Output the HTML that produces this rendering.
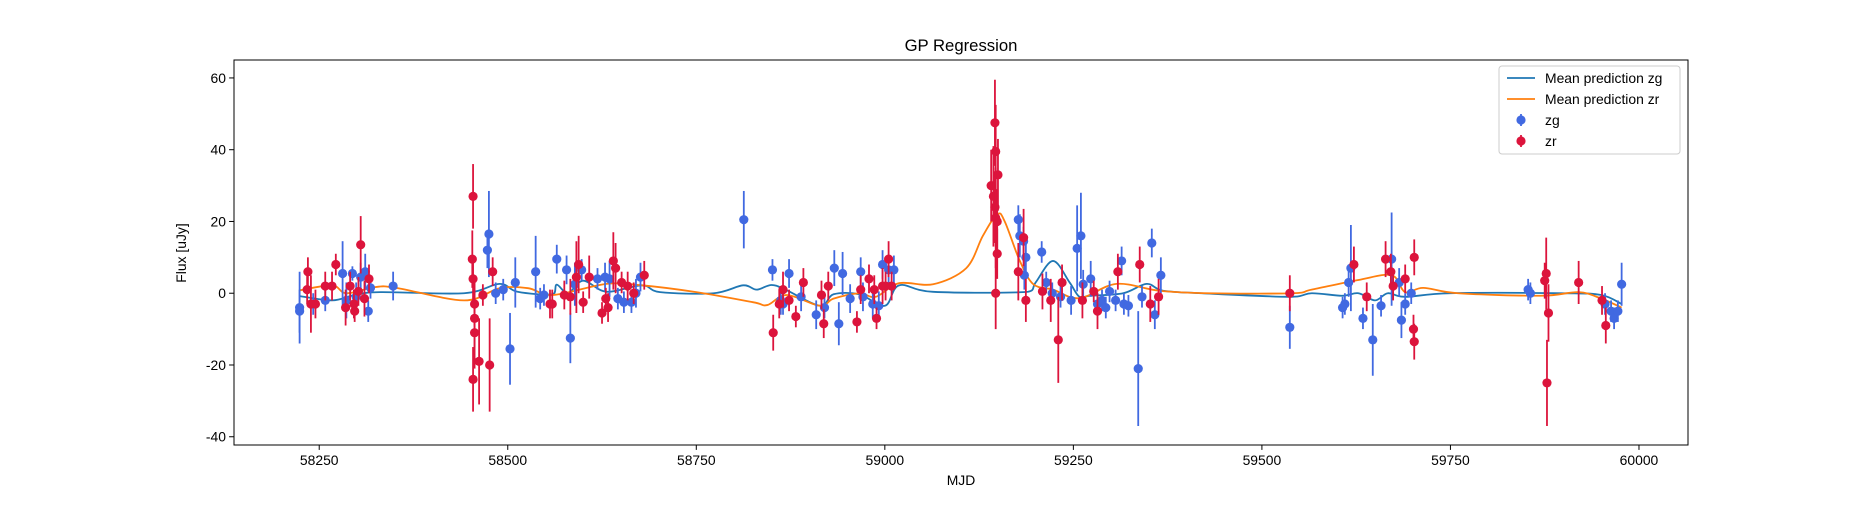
<!DOCTYPE html>
<html><head><meta charset="utf-8"><style>
body{margin:0;background:#fff;}
svg text{font-family:"Liberation Sans","DejaVu Sans",sans-serif;}
</style></head><body>
<svg id="chart" width="1875" height="500" viewBox="0 0 1875 500" xmlns="http://www.w3.org/2000/svg">
<rect width="1875" height="500" fill="#fff"/>
<text x="961" y="51" font-size="16.7" text-anchor="middle">GP Regression</text>
<g id="plot"></g>
<text x="961" y="485" font-size="13.9" text-anchor="middle">MJD</text>
<text x="186" y="253" font-size="13.9" text-anchor="middle" transform="rotate(-90 186 253)">Flux [uJy]</text>
</svg>
<script>
const xTicks=[58250,58500,58750,59000,59250,59500,59750,60000];
const yTicks=[-40,-20,0,20,40,60];
const zgMjd=[58224,58224,58242,58258,58281,58294,58286,58299,58305,58311,58315,58318,58348,58475,58473,58484,58494,58503,58510,58537,58543,58548,58565,58578,58583,58589,58598,58619,58629,58635,58646,58654,58664,58670,58676,58813,58851,58862,58873,58865,58889,58909,58920,58933,58939,58944,58954,58968,58971,58984,58992,58997,59005,59012,59177,59179,59184,59187,59185,59208,59214,59222,59233,59247,59255,59260,59263,59273,59282,59288,59298,59293,59306,59314,59317,59323,59336,59341,59354,59358,59366,59537,59610,59607,59615,59618,59634,59647,59658,59672,59685,59682,59690,59698,59853,59856,59955,59963,59967,59972,59977];
const zgFlux=[-4,-5,-3,-2,5.5,5.5,-2,-1,4.5,6,-5,1.5,2,16.5,12,0,1,-15.5,3,6,-1.5,-0.5,9.5,6.5,-12.5,2.5,6.5,4,4.5,4,-1.5,-2.5,-2.5,0,4.5,20.5,6.5,-2,5.5,-3,-1,-6,-4,7,-8.5,5.5,-1.5,6,-1,-3,-3.5,8,6.5,6.5,20.5,16,14.5,10,5,11.5,3,0,-1,-2,12.5,16,2.5,4,-3,-2,0.5,-4,-2,9,-3,-3.5,-21,-1,14,-6,5,-9.5,-3,-4,3,7,-7,-13,-3.5,9.5,-7.5,3,-3,0,1,0,-3,-5,-7,-5,2.5];
const zgErr=[10,6,3,3,9,2,5,4,4,5,3,3,4,12,5,3,3,10,7,10,3,3,4,4,7,6,3,3,4,5,3,3,3,4,4,8,3,4,4,3,4,4,3,5,6,6,4,4,4,4,4,4,4,4,4,6,4,4,4,3,3,3,3,4,12,12,4,5,3,3,3,3,3,4,3,3,16,3,4,4,5,6,3,3,4,12,3,10,3,13,5,4,3,3,3,3,3,3,3,3,6];
const zrMjd=[58234,58235,58239,58245,58258,58267,58272,58285,58291,58296,58297,58302,58305,58310,58316,58454,58453,58454,58456,58456,58456,58454,58462,58467,58476,58480,58556,58559,58575,58583,58591,58594,58608,58600,58625,58630,58633,58640,58643,58651,58659,58667,58681,58852,58860,58865,58873,58882,58892,58916,58919,58925,58963,58968,58979,58986,58989,58997,59001,59005,59009,59141,59146,59144,59147,59146,59147,59150,59149,59149,59147,59177,59187,59184,59209,59220,59230,59235,59262,59277,59282,59309,59338,59352,59363,59537,59622,59639,59664,59671,59674,59690,59702,59701,59702,59875,59877,59878,59880,59920,59951,59956];
const zrFlux=[1,6,-3,-3,2,2,8,-4,2,-3,-5,0.5,13.5,-1.5,4,27,9.5,4,-3,-7,-11,-24,-19,-0.5,-20,6,-3,-3,-0.5,-1,4.5,8,4.5,-2.5,-5.5,-1.5,-4,9,7,3,2,0,5,-11,-3,1,-2,-6.5,3,-0.5,-8.5,2,-8,1,4,1,-7,2,2,9.5,2,30,47.5,27,39.5,24,21,33,20,11,0,6,-2,15.5,0.5,-2,-13,3,-2,0.5,-5,6,8,-3,-1,0,8,-1,9.5,6,2,4,10,-10,-13.5,3.5,5.5,-25,-5.5,3,-2,-9];
const zrErr=[4,4,8,4,4,4,3,5,4,4,3,4,8,5,4,9,8,6,6,8,10,9,12,3,13,4,4,4,4,5,10,8,6,3,3,3,4,8,7,3,4,3,4,5,4,5,3,3,4,4,4,4,3,4,4,4,3,5,4,5,4,10,12,14,13,10,14,10,9,7,10,8,6,8,5,6,12,5,5,3,5,5,5,5,5,5,5,4,5,5,4,4,5,4,5,5,10,12,8,6,4,5];
const zgMeanMjd=[58224,58267,58297,58331,58442,58489,58513,58560,58565,58580,58600,58631,58678,58702,58773,58812,58830,58850,58870,58914,58932,58966,59000,59019,59064,59190,59200,59223,59245,59258,59272,59316,59347,59369,59420,59535,59566,59606,59628,59650,59667,59690,59750,59900,59950,59977];
const zgMeanFlux=[-0.8,-2,-0.5,0.3,0,2.6,0.4,-0.3,2.4,0,3.5,0.4,2.2,0.3,0,2.2,1,2.3,0.8,-3.5,-0.3,-0.3,-3.5,2.2,0.4,0.4,3,9,3,-1,-0.7,0,2.6,0.7,0,-1,0,-0.7,0,-2,0,-1,0,0,-0.5,-3];
const zrMeanMjd=[58224,58267,58286,58324,58352,58442,58489,58527,58560,58631,58678,58750,58825,58844,58870,58914,58932,58966,58988,59019,59064,59108,59130,59149,59159,59179,59197,59223,59258,59307,59364,59430,59540,59566,59628,59672,59690,59714,59760,59870,59920,59950,59977];
const zrMeanFlux=[0.8,2.2,0,1.7,1.5,-2,1.4,1.4,-0.5,2.6,2.2,0.3,-2.5,-3.3,-0.5,-3.5,-1.5,0,-1,2.8,2.5,7,16,22,20,9,2.5,1,-1.4,2.6,0.7,0,0,1,3.7,5,0.3,1.5,0,-0.7,0.3,-1.5,-4];

const L=234,R=1688,T=60,B=445,xMin=58137,xMax=60065,yMin=-42.3,yMax=65;
const sx=v=>L+(v-xMin)/(xMax-xMin)*(R-L);
const sy=v=>B-(v-yMin)/(yMax-yMin)*(B-T);
const NS="http://www.w3.org/2000/svg";
const plot=document.getElementById('plot');
function mk(tag,attrs,parent){const e=document.createElementNS(NS,tag);for(const k in attrs)e.setAttribute(k,attrs[k]);(parent||plot).appendChild(e);return e;}
const clip=mk('clipPath',{id:'clip'});mk('rect',{x:L,y:T,width:R-L,height:B-T},clip);

xTicks.forEach(t=>{
  const g=mk('g',{});
  
  
  mk('line',{x1:sx(t),x2:sx(t),y1:B,y2:B+4.9,stroke:'#000','stroke-width':1},g);
  const tx=mk('text',{x:sx(t),y:B+20,'font-size':13.9,'text-anchor':'middle'},g);tx.textContent=t;
});
yTicks.forEach(t=>{
  const g=mk('g',{});
  
  
  mk('line',{x1:L-4.9,x2:L,y1:sy(t),y2:sy(t),stroke:'#000','stroke-width':1},g);
  const tx=mk('text',{x:L-8,y:sy(t)+5,'font-size':13.9,'text-anchor':'end'},g);tx.textContent=t;
});

function smooth(xs,ys){
  const p=xs.map((x,i)=>[sx(x),sy(ys[i])]);
  let d='M'+p[0][0]+','+p[0][1];
  for(let i=0;i<p.length-1;i++){
    const p0=p[Math.max(0,i-1)],p1=p[i],p2=p[i+1],p3=p[Math.min(p.length-1,i+2)];
    const c1=[p1[0]+(p2[0]-p0[0])/6,p1[1]+(p2[1]-p0[1])/6];
    const c2=[p2[0]-(p3[0]-p1[0])/6,p2[1]-(p3[1]-p1[1])/6];
    c1[0]=Math.min(Math.max(c1[0],p1[0]),p2[0]);c2[0]=Math.min(Math.max(c2[0],p1[0]),p2[0]);
    d+=` C${c1[0]},${c1[1]} ${c2[0]},${c2[1]} ${p2[0]},${p2[1]}`;
  }
  return d;
}
const lg=mk('g',{'clip-path':'url(#clip)'});
const zgLine=mk('path',{d:smooth(zgMeanMjd,zgMeanFlux),fill:'none',stroke:'#1f77b4','stroke-width':1.8},lg);


const zrLine=mk('path',{d:smooth(zrMeanMjd,zrMeanFlux),fill:'none',stroke:'#ff7f0e','stroke-width':1.8},lg);



function points(ms,fs,es,col,name){
  const g=mk('g',{'clip-path':'url(#clip)'});
  
  
  ms.forEach((m,i)=>{
    const ln=mk('line',{x1:sx(m),x2:sx(m),y1:sy(fs[i]-es[i]),y2:sy(fs[i]+es[i]),stroke:col,'stroke-width':1.8},g);
    
    
    const c=mk('circle',{cx:sx(m),cy:sy(fs[i]),r:4.6,fill:col},g);
    
    
  });
}
points(zgMjd,zgFlux,zgErr,'#4169e1','zg');
points(zrMjd,zrFlux,zrErr,'#dc143c','zr');

const fr=mk('rect',{x:L,y:T,width:R-L,height:B-T,fill:'none',stroke:'#000','stroke-width':1});



const leg=mk('g',{});


mk('rect',{x:1499,y:66,width:181,height:88,rx:3,fill:'#fff','fill-opacity':0.8,stroke:'#ccc','stroke-width':1},leg);
const items=[['Mean prediction zg','line','#1f77b4',78],['Mean prediction zr','line','#ff7f0e',99],['zg','pt','#4169e1',120],['zr','pt','#dc143c',141]];
items.forEach(it=>{
  const g=mk('g',{},leg);
  
  
  if(it[1]==='line')mk('line',{x1:1507,x2:1535,y1:it[3],y2:it[3],stroke:it[2],'stroke-width':1.8},g);
  else{mk('line',{x1:1521,x2:1521,y1:it[3]-6,y2:it[3]+6,stroke:it[2],'stroke-width':1.8},g);mk('circle',{cx:1521,cy:it[3],r:4.6,fill:it[2]},g);}
  const t=mk('text',{x:1545,y:it[3]+5,'font-size':13.9},g);t.textContent=it[0];
});
</script>
</body></html>
